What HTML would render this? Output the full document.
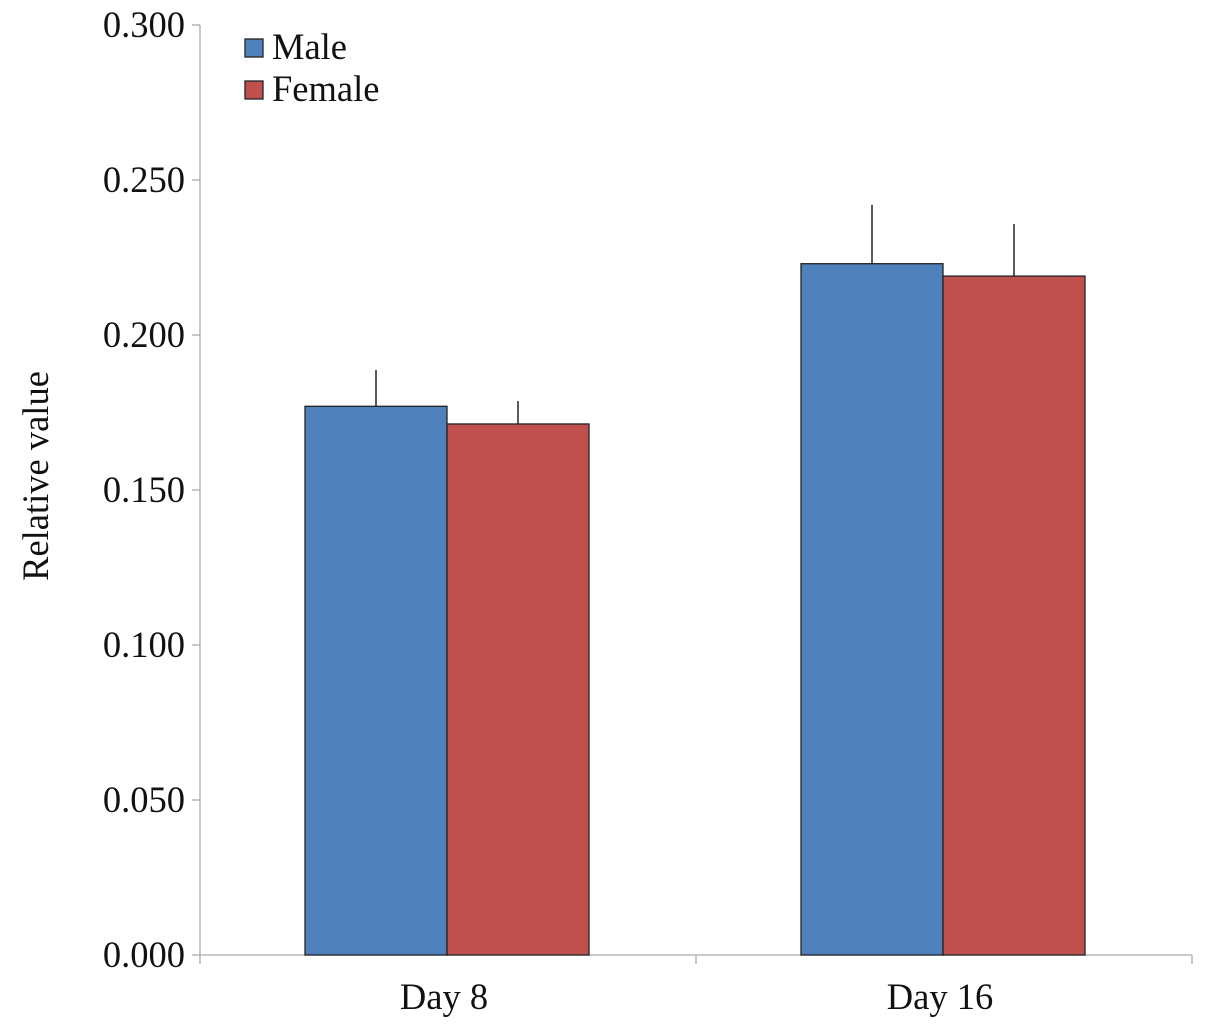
<!DOCTYPE html>
<html><head><meta charset="utf-8"><style>
html,body{margin:0;padding:0;background:#fff;}
svg text{font-family:"Liberation Serif",serif;fill:#111;}
</style></head><body>
<svg id="chart" width="1205" height="1028" xmlns="http://www.w3.org/2000/svg"></svg>
<script>
const categories = ["Day 8", "Day 16"];
const maleValues = [0.177, 0.223];
const maleErrors = [0.0117, 0.019];
const femaleValues = [0.1713, 0.219];
const femaleErrors = [0.0074, 0.0168];
const yTicks = [0, 0.05, 0.1, 0.15, 0.2, 0.25, 0.3];
const yTickLabels = ["0.000","0.050","0.100","0.150","0.200","0.250","0.300"];

const NS = "http://www.w3.org/2000/svg";
const svg = document.getElementById('chart');
const x0 = 200, x1 = 1192, yTop = 25, yBot = 955, yMax = 0.3;
const yScale = v => yBot - (v / yMax) * (yBot - yTop);
const band = (x1 - x0) / categories.length;
const barW = 142;
const FS = 36.5;
function mk(tag, attrs, text) {
  const e = document.createElementNS(NS, tag);
  for (const k in attrs) e.setAttribute(k, attrs[k]);
  if (text !== undefined) e.textContent = text;
  svg.appendChild(e);
  return e;
}
let e = mk('line', {x1:x0, y1:yTop, x2:x0, y2:yBot, stroke:'#aaa', 'stroke-width':1.3});


e = mk('line', {x1:x0, y1:yBot, x2:x1, y2:yBot, stroke:'#aaa', 'stroke-width':1.3});


yTicks.forEach((t, i) => {
  const y = yScale(t);
  const tk = mk('line', {x1:x0-8, y1:y, x2:x0, y2:y, stroke:'#aaa', 'stroke-width':1.3});
  
  
  const lb = mk('text', {x:185, y:y+12, 'text-anchor':'end', 'font-size':FS}, yTickLabels[i]);
  
  
});
for (let i = 0; i <= categories.length; i++) {
  const x = x0 + band * i;
  const tk = mk('line', {x1:x, y1:yBot, x2:x, y2:yBot+9, stroke:'#aaa', 'stroke-width':1.3});
  
  
}
categories.forEach((c, i) => {
  const cx = x0 + band * (i + 0.5);
  const lb = mk('text', {x:cx-4, y:1009, 'text-anchor':'middle', 'font-size':FS}, c);
  
  
  const series = [[maleValues, maleErrors, '#4f81bd', 'male'], [femaleValues, femaleErrors, '#c0504d', 'female']];
  series.forEach((s, j) => {
    const bx = cx - barW + j * barW - 1;
    const v = s[0][i], err = s[1][i];
    const top = yScale(v);
    const eb = mk('line', {x1:bx+barW/2, y1:yScale(v+err), x2:bx+barW/2, y2:top, stroke:'#222', 'stroke-width':1.5});
    
    
    const r = mk('rect', {x:bx, y:top, width:barW, height:yBot-top, fill:s[2], stroke:'#222', 'stroke-width':1.3});
    
    
  });
});
e = mk('text', {x:0, y:0, transform:'translate(48,476) rotate(-90)', 'text-anchor':'middle', 'font-size':FS}, 'Relative value');


[['Male','#4f81bd',48],['Female','#c0504d',90]].forEach(l => {
  const r = mk('rect', {x:245, y:l[2]-9, width:18, height:18, fill:l[1], stroke:'#222', 'stroke-width':1.3});
  
  
  const t = mk('text', {x:272, y:l[2]+11, 'font-size':FS}, l[0]);
  
  
});
</script>
</body></html>
